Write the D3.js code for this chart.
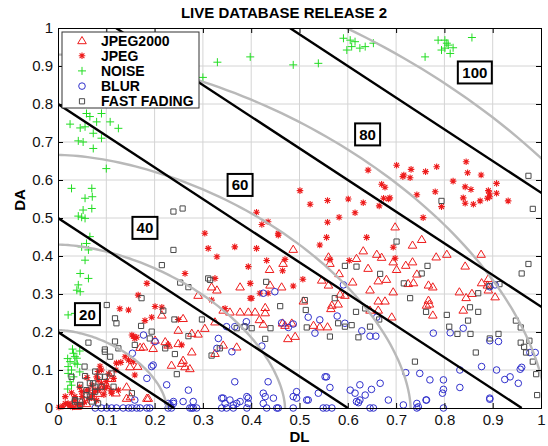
<!DOCTYPE html>
<html>
<head>
<meta charset="utf-8">
<script src="https://cdn.jsdelivr.net/npm/d3@7"></script>
<style>
  body { margin: 0; background: #fff; }
  svg { display: block; font-family: Arial, "Liberation Sans", sans-serif; }
</style>
</head>
<body>
<svg id="chart" width="548" height="446"></svg>
<script>
// series names (legend order)
const seriesNames = ["JPEG2000", "JPEG", "NOISE", "BLUR", "FAST FADING"];

// [DL, DA] pairs
const jpeg2000 = [
  [0.487,0.418],[0.438,0.365],[0.466,0.381],[0.563,0.381],[0.56,0.398],[0.618,0.394],[0.632,0.414],[0.66,0.405],
  [0.67,0.397],[0.694,0.385],[0.701,0.365],[0.582,0.354],[0.61,0.332],[0.642,0.368],[0.663,0.335],[0.68,0.339],
  [0.694,0.306],[0.646,0.311],[0.663,0.282],[0.677,0.282],[0.646,0.258],[0.663,0.258],[0.691,0.24],[0.584,0.3],
  [0.594,0.297],[0.567,0.271],[0.565,0.262],[0.58,0.274],[0.508,0.282],[0.542,0.214],[0.529,0.218],[0.558,0.214],
  [0.47,0.218],[0.484,0.224],[0.465,0.224],[0.491,0.189],[0.476,0.183],[0.439,0.324],[0.463,0.319],[0.408,0.253],
  [0.429,0.265],[0.429,0.251],[0.417,0.233],[0.425,0.221],[0.56,0.324],[0.546,0.337],
  [0.753,0.444],[0.734,0.429],[0.783,0.398],[0.805,0.405],[0.876,0.405],[0.843,0.374],[0.734,0.385],[0.72,0.376],
  [0.743,0.353],[0.767,0.324],[0.776,0.319],[0.725,0.328],[0.736,0.33],[0.877,0.33],[0.891,0.341],[0.889,0.324],
  [0.891,0.311],[0.905,0.293],[0.857,0.302],[0.831,0.306],[0.845,0.291],[0.839,0.258],[0.767,0.284],[0.769,0.274],
  [0.776,0.245],[0.763,0.271],
  [0.29,0.297],[0.259,0.236],[0.318,0.319],[0.329,0.311],[0.377,0.319],[0.342,0.258],[0.356,0.253],[0.377,0.253],
  [0.394,0.253],[0.325,0.227],[0.37,0.161],[0.342,0.166],[0.277,0.197],[0.249,0.205],[0.215,0.245],[0.29,0.195],
  [0.201,0.179],[0.177,0.161],[0.197,0.157],[0.235,0.113],[0.256,0.118],[0.263,0.109],[0.149,0.109],[0.111,0.078],
  [0.142,0.056],[0.187,0.026],[0.083,0.039],[0.059,0.012],
  [0.222,0.175],[0.228,0.166],[0.249,0.17],[0.259,0.126],[0.273,0.104],[0.277,0.148],[0.304,0.21],[0.325,0.144],
  [0.142,0.026],[0.184,0.026],[0.698,0.477],[0.17,0.16],[0.165,0.11],[0.12,0.04],[0.15,0.03],
  [0.03,0.01],[0.05,0.02],[0.07,0.03],[0.09,0.05],[0.04,0.005],[0.1,0.06]
];

const jpeg = [
  [0.642,0.626],[0.701,0.639],[0.714,0.609],[0.716,0.613],[0.731,0.628],[0.729,0.606],[0.761,0.622],[0.784,0.635],
  [0.845,0.648],[0.848,0.619],[0.876,0.613],[0.818,0.597],[0.843,0.582],[0.855,0.575],[0.891,0.572],[0.893,0.565],
  [0.894,0.556],[0.889,0.552],[0.908,0.591],[0.908,0.565],[0.932,0.545],[0.874,0.545],[0.86,0.536],[0.843,0.539],
  [0.839,0.553],[0.743,0.561],[0.781,0.569],[0.756,0.501],[0.794,0.53],[0.67,0.589],[0.677,0.581],[0.674,0.552],
  [0.684,0.55],[0.687,0.553],[0.665,0.532],[0.632,0.54],[0.601,0.55],[0.615,0.514],[0.582,0.502],[0.558,0.546],
  [0.558,0.489],[0.522,0.536],[0.501,0.572],[0.411,0.515],[0.422,0.483],[0.435,0.49],[0.456,0.46],
  [0.456,0.455],[0.556,0.449],[0.639,0.449],[0.542,0.429],[0.411,0.42],[0.432,0.388],[0.47,0.391],[0.465,0.361],
  [0.398,0.328],[0.418,0.302],[0.435,0.302],[0.487,0.321],[0.507,0.339],[0.563,0.391],[0.603,0.388],[0.694,0.423],
  [0.698,0.394],[0.401,0.289],
  [0.304,0.46],[0.366,0.424],[0.311,0.42],[0.329,0.398],[0.394,0.372],[0.263,0.354],[0.325,0.341],[0.184,0.328],
  [0.166,0.297],[0.128,0.261],[0.146,0.258],[0.201,0.267],[0.215,0.265],[0.318,0.284],[0.398,0.289],[0.346,0.262],
  [0.249,0.233],[0.18,0.23],[0.194,0.239],[0.156,0.189],[0.163,0.186],[0.256,0.166],[0.228,0.166],[0.139,0.135],
  [0.087,0.11],[0.08,0.082],[0.115,0.078],[0.101,0.056],[0.063,0.047],[0.07,0.03],[0.046,0.008],[0.025,0.008],
  [0.015,0.012],
  [0.153,0.192],[0.159,0.183],[0.146,0.126],[0.121,0.118],[0.156,0.122],[0.159,0.087],[0.083,0.096],[0.083,0.074],
  [0.097,0.052],[0.111,0.039],[0.125,0.047],[0.077,0.047],[0.049,0.043],[0.035,0.03],[0.021,0.012],
  [0.01,0.005],[0.02,0.01],[0.03,0.003],[0.035,0.02],[0.04,0.01],[0.05,0.03],[0.055,0.015],[0.06,0.045],
  [0.065,0.025],[0.07,0.06],[0.075,0.04],[0.08,0.02],[0.085,0.05],[0.09,0.065],[0.095,0.035],[0.1,0.07],
  [0.105,0.09],[0.11,0.045],[0.06,0.08],[0.045,0.055],[0.12,0.1],[0.002,0.002],[0.015,0.03],[0.028,0.04],
  [0.09,0.1],[0.13,0.12]
];

const noise = [
  [0.059,0.775],[0.066,0.767],[0.08,0.753],[0.108,0.753],[0.025,0.747],[0.046,0.737],[0.056,0.74],[0.073,0.723],
  [0.09,0.71],[0.042,0.703],[0.052,0.70],[0.073,0.683],[0.125,0.736],[0.10,0.63],[0.028,0.578],[0.07,0.578],
  [0.056,0.552],[0.071,0.556],[0.07,0.525],[0.052,0.521],[0.042,0.505],[0.049,0.502],[0.056,0.499],[0.066,0.451],
  [0.09,0.775],
  [0.059,0.433],[0.049,0.424],[0.063,0.416],[0.056,0.389],[0.046,0.354],[0.063,0.341],[0.042,0.324],[0.039,0.31],
  [0.046,0.306],[0.035,0.249],[0.021,0.245],[0.042,0.253],
  [0.032,0.144],[0.035,0.135],[0.025,0.122],[0.021,0.109],[0.028,0.10],[0.032,0.082],[0.025,0.069],[0.039,0.131],
  [0.035,0.118],[0.021,0.091],[0.03,0.155],[0.045,0.15],[0.02,0.13],[0.04,0.115],[0.028,0.06],[0.02,0.05],
  [0.045,0.095],
  [0.591,0.973],[0.605,0.968],[0.615,0.964],[0.598,0.942],[0.608,0.951],[0.625,0.947],[0.636,0.951],[0.653,0.96],
  [0.487,0.903],[0.539,0.907],[0.398,0.924],[0.787,0.968],[0.801,0.968],[0.805,0.96],[0.818,0.948],[0.794,0.942],
  [0.801,0.947],[0.812,0.933],[0.76,0.924],[0.857,0.975],[0.808,0.955],[0.33,0.91],[0.3,0.87]
];

const blurZero = [0.077,0.09,0.101,0.111,0.121,0.135,0.146,0.153,0.163,0.17,0.184,0.19,0.228,0.235,0.273,0.277,
  0.28,0.287,0.339,0.349,0.363,0.391,0.432,0.453,0.456,0.487,0.549,0.556,0.567,0.646,0.653,0.743,0.798];

const blur = blurZero.map(dl => [dl, 0]).concat([
  [0.159,0.021],[0.228,0.012],[0.239,0.017],[0.339,0.026],[0.346,0.012],[0.363,0.008],[0.377,0.017],[0.394,0.026],
  [0.425,0.012],[0.429,0.03],[0.446,0.026],[0.494,0.026],[0.515,0.021],[0.618,0.017],[0.625,0.021],[0.684,0.021],
  [0.763,0.021],[0.894,0.026],
  [0.591,0.324],[0.449,0.306],[0.425,0.302],[0.463,0.224],[0.487,0.221],[0.518,0.239],[0.542,0.232],[0.532,0.197],
  [0.578,0.242],[0.594,0.223],[0.629,0.203],[0.646,0.189],[0.658,0.189],[0.66,0.239],[0.477,0.212],[0.422,0.163],
  [0.435,0.069],[0.425,0.039],[0.487,0.03],[0.494,0.043],[0.518,0.021],[0.539,0.039],[0.556,0.082],[0.553,0.082],
  [0.563,0.054],[0.605,0.047],[0.625,0.061],[0.615,0.039],[0.636,0.034],[0.649,0.049],[0.667,0.065],[0.622,0.014],
  [0.894,0.319],[0.905,0.324],[0.839,0.21],[0.777,0.197],[0.812,0.198],[0.894,0.177],[0.912,0.175],[0.877,0.109],
  [0.908,0.1],[0.936,0.082],[0.925,0.075],[0.953,0.065],[0.957,0.102],[0.96,0.107],[0.988,0.146],[0.977,0.146],
  [0.72,0.093],[0.749,0.091],[0.77,0.074],[0.798,0.074],[0.832,0.1],[0.798,0.049],[0.796,0.039],[0.832,0.054],
  [0.762,0.021],[0.743,0.012],[0.746,0.003],[0.894,0.023],[0.715,0.008],
  [0.201,0.175],[0.197,0.113],[0.332,0.183],[0.329,0.157],[0.36,0.148],[0.366,0.069],[0.342,0.026],[0.356,0.021],
  [0.391,0.03],[0.394,0.012],[0.37,0.012],[0.27,0.047],[0.225,0.061],[0.28,0.017],[0.259,0.017],[0.239,0.012],
  [0.232,0.008],[0.349,0.214],[0.366,0.214],[0.387,0.214],
  [0.177,0.192],[0.194,0.109],[0.154,0.144],[0.184,0.078],[0.39,0.227]
]);

const fastFading = [
  [0.239,0.416],[0.215,0.376],[0.253,0.33],[0.311,0.341],[0.315,0.337],[0.27,0.318],[0.173,0.289],[0.101,0.271],
  [0.118,0.236],[0.121,0.223],[0.218,0.256],[0.241,0.233],[0.172,0.216],[0.194,0.201],[0.19,0.183],[0.063,0.172],
  [0.097,0.154],[0.125,0.157],[0.222,0.157],[0.242,0.142],[0.27,0.189],[0.298,0.233],[0.37,0.21],[0.386,0.214],
  [0.335,0.157],[0.318,0.138],[0.246,0.089],[0.055,0.109],[0.028,0.082],[0.056,0.084],[0.097,0.082],[0.077,0.056],
  [0.066,0.065],[0.059,0.047],[0.115,0.056],[0.153,0.039],[0.035,0.017],[0.046,0.008],[0.083,0.012],[0.066,0.03],
  [0.239,0.517],[0.258,0.525],
  [0.118,0.175],[0.097,0.148],[0.108,0.135],[0.159,0.166],[0.077,0.096],[0.087,0.082],[0.111,0.091],[0.073,0.065],
  [0.046,0.061],[0.09,0.056],[0.077,0.043],[0.059,0.034],[0.035,0.021],[0.046,0.017],[0.07,0.017],
  [0.701,0.438],[0.667,0.353],[0.618,0.372],[0.594,0.374],[0.573,0.289],[0.511,0.284],[0.513,0.258],[0.515,0.212],
  [0.431,0.332],[0.46,0.268],[0.401,0.21],[0.44,0.21],[0.429,0.182],[0.563,0.188],[0.58,0.223],[0.594,0.214],
  [0.608,0.218],[0.617,0.253],[0.636,0.262],[0.665,0.233],[0.646,0.214],[0.622,0.186],
  [0.765,0.374],[0.753,0.354],[0.716,0.328],[0.729,0.289],[0.762,0.253],[0.805,0.245],[0.87,0.302],[0.853,0.265],
  [0.87,0.253],[0.849,0.23],[0.81,0.214],[0.827,0.195],[0.854,0.195],[0.894,0.183],[0.912,0.195],[0.865,0.146],
  [0.739,0.122],[0.948,0.23],[0.958,0.212],[0.958,0.172],[0.976,0.177],[0.965,0.161],[0.969,0.146],[0.983,0.122],
  [0.99,0.089],[0.992,0.034],[0.974,0.379],[0.96,0.354],[0.893,0.321],[0.914,0.326],
  [0.794,0.545],[0.974,0.611],[0.983,0.524]
];

// black boundary lines: DA intercept and DL intercept
const boundaryDA0 = [0.2, 0.5, 0.8, 1.1, 1.4];
const boundaryDL0 = [0.24, 0.6, 0.96, 1.32, 1.68];

// gray contour curves: DL intercept, DA intercept
const contourDL0 = [0.225, 0.47, 0.73, 1.01, 1.3];
const contourDA0 = [0.205, 0.43, 0.666, 0.93, 1.2];

// zone labels and where they sit
const zoneLabels = ["20", "40", "60", "80", "100"];
const zoneDL = [0.061, 0.18, 0.377, 0.641, 0.863];
const zoneDA = [0.247, 0.474, 0.587, 0.72, 0.883];

const tickValues = d3.range(0, 11).map(i => i / 10);

const svg = d3.select("#chart");
const margin = { top: 28, right: 7, bottom: 38, left: 58 };
const W = 548, H = 446;
const x = d3.scaleLinear().domain([0, 1]).range([margin.left, W - margin.right]);
const y = d3.scaleLinear().domain([0, 1]).range([H - margin.bottom, margin.top]);
const fmt = d => (d === 0 || d === 1) ? String(d) : d3.format(".1f")(d);

svg.append("defs").append("clipPath").attr("id", "plotClip")
  .append("rect")
  .attr("x", x(0)).attr("y", y(1))
  .attr("width", x(1) - x(0)).attr("height", y(0) - y(1));

// grid
const grid = svg.append("g").attr("stroke", "#d4d4d4").attr("stroke-width", 1);
tickValues.slice(1, -1).forEach(t => {
  grid.append("line").attr("x1", x(t)).attr("x2", x(t)).attr("y1", y(0)).attr("y2", y(1));
  grid.append("line").attr("x1", x(0)).attr("x2", x(1)).attr("y1", y(t)).attr("y2", y(t));
});

// markers
const RED = "#ee1c1c", GREEN = "#22dd22", BLUE = "#3030cc", GREY = "#4a4a4a";
const markers = {
  "JPEG2000": { data: jpeg2000, color: RED, path: "M0,-4L4.3,3.2L-4.3,3.2Z" },
  "JPEG": { data: jpeg, color: RED, path: "M-3.3,0H3.3M0,-3.3V3.3M-2.4,-2.4L2.4,2.4M-2.4,2.4L2.4,-2.4", sw: 1.1 },
  "NOISE": { data: noise, color: GREEN, path: "M-4,0H4M0,-4V4" },
  "BLUR": { data: blur, color: BLUE, circle: 3.3 },
  "FAST FADING": { data: fastFading, color: GREY, path: "M-2.6,-2.6H2.6V2.6H-2.6Z" }
};

function drawMarker(sel, m) {
  if (m.circle) {
    sel.append("circle").attr("r", m.circle).attr("fill", "none")
      .attr("stroke", m.color).attr("stroke-width", 1);
  } else {
    sel.append("path").attr("d", m.path).attr("fill", "none")
      .attr("stroke", m.color).attr("stroke-width", m.sw || 1);
  }
}

const pts = svg.append("g");
seriesNames.forEach(name => {
  const m = markers[name];
  pts.append("g").selectAll("g").data(m.data).join("g")
    .attr("transform", d => `translate(${x(d[0])},${y(d[1])})`)
    .each(function () { drawMarker(d3.select(this), m); });
});

// gray contours (superellipse through the read intercepts)
const guides = svg.append("g").attr("clip-path", "url(#plotClip)");
const n = 1.7;
const thetas = d3.range(0, 91).map(i => (i / 90) * Math.PI / 2);
contourDL0.forEach((a, i) => {
  const b = contourDA0[i];
  const curve = thetas.map(t => [a * Math.pow(Math.cos(t), 2 / n), b * Math.pow(Math.sin(t), 2 / n)]);
  guides.append("path")
    .attr("d", d3.line().x(d => x(d[0])).y(d => y(d[1]))(curve))
    .attr("fill", "none").attr("stroke", "#b9b9b9").attr("stroke-width", 2.4);
});

// black boundaries
boundaryDA0.forEach((c, i) => {
  guides.append("line")
    .attr("x1", x(0)).attr("y1", y(c))
    .attr("x2", x(boundaryDL0[i])).attr("y2", y(0))
    .attr("stroke", "#000").attr("stroke-width", 2.4);
});

// zone labels
zoneLabels.forEach((lab, i) => {
  const g = svg.append("g").attr("transform", `translate(${x(zoneDL[i])},${y(zoneDA[i])})`);
  const w = lab.length > 2 ? 34 : 25;
  g.append("rect").attr("x", -w / 2).attr("y", -11).attr("width", w).attr("height", 22)
    .attr("fill", "#fff").attr("stroke", "#000").attr("stroke-width", 2);
  g.append("text").attr("text-anchor", "middle").attr("dy", "0.36em")
    .attr("font-size", 15).attr("font-weight", "bold").text(lab);
});

// axes with inward ticks on all sides
svg.append("g").attr("transform", `translate(0,${y(0)})`)
  .call(d3.axisBottom(x).tickValues(tickValues).tickFormat(fmt).tickSize(-5).tickPadding(6));
svg.append("g").attr("transform", `translate(${x(0)},0)`)
  .call(d3.axisLeft(y).tickValues(tickValues).tickFormat(fmt).tickSize(-5).tickPadding(5));
svg.append("g").attr("transform", `translate(0,${y(1)})`)
  .call(d3.axisTop(x).tickValues(tickValues).tickFormat("").tickSize(-5));
svg.append("g").attr("transform", `translate(${x(1)},0)`)
  .call(d3.axisRight(y).tickValues(tickValues).tickFormat("").tickSize(-5));
svg.selectAll(".domain").attr("stroke", "#000");
svg.selectAll(".tick line").attr("stroke", "#000");
svg.selectAll(".tick text").attr("font-size", 15).attr("fill", "#111")
  .attr("font-family", "Arial, 'Liberation Sans', sans-serif");

// titles
svg.append("text").attr("x", 284).attr("y", 18).attr("text-anchor", "middle")
  .attr("font-size", 15).attr("font-weight", "bold").text("LIVE DATABASE RELEASE 2");
svg.append("text").attr("x", (x(0) + x(1)) / 2).attr("y", 442).attr("text-anchor", "middle")
  .attr("font-size", 15).attr("font-weight", "bold").text("DL");
svg.append("text").attr("transform", "translate(25,200) rotate(-90)").attr("text-anchor", "middle")
  .attr("font-size", 15).attr("font-weight", "bold").text("DA");

// legend
const legend = svg.append("g").attr("transform", "translate(62,32)");
legend.append("rect").attr("width", 137).attr("height", 76)
  .attr("fill", "#fff").attr("stroke", "#333").attr("stroke-width", 1);
seriesNames.forEach((name, i) => {
  const row = legend.append("g").attr("transform", `translate(20,${8.5 + i * 15.2})`);
  drawMarker(row, markers[name]);
  row.append("text").attr("x", 19).attr("dy", "0.36em")
    .attr("font-size", 14).attr("font-weight", "bold").text(name);
});
</script>
</body>
</html>
